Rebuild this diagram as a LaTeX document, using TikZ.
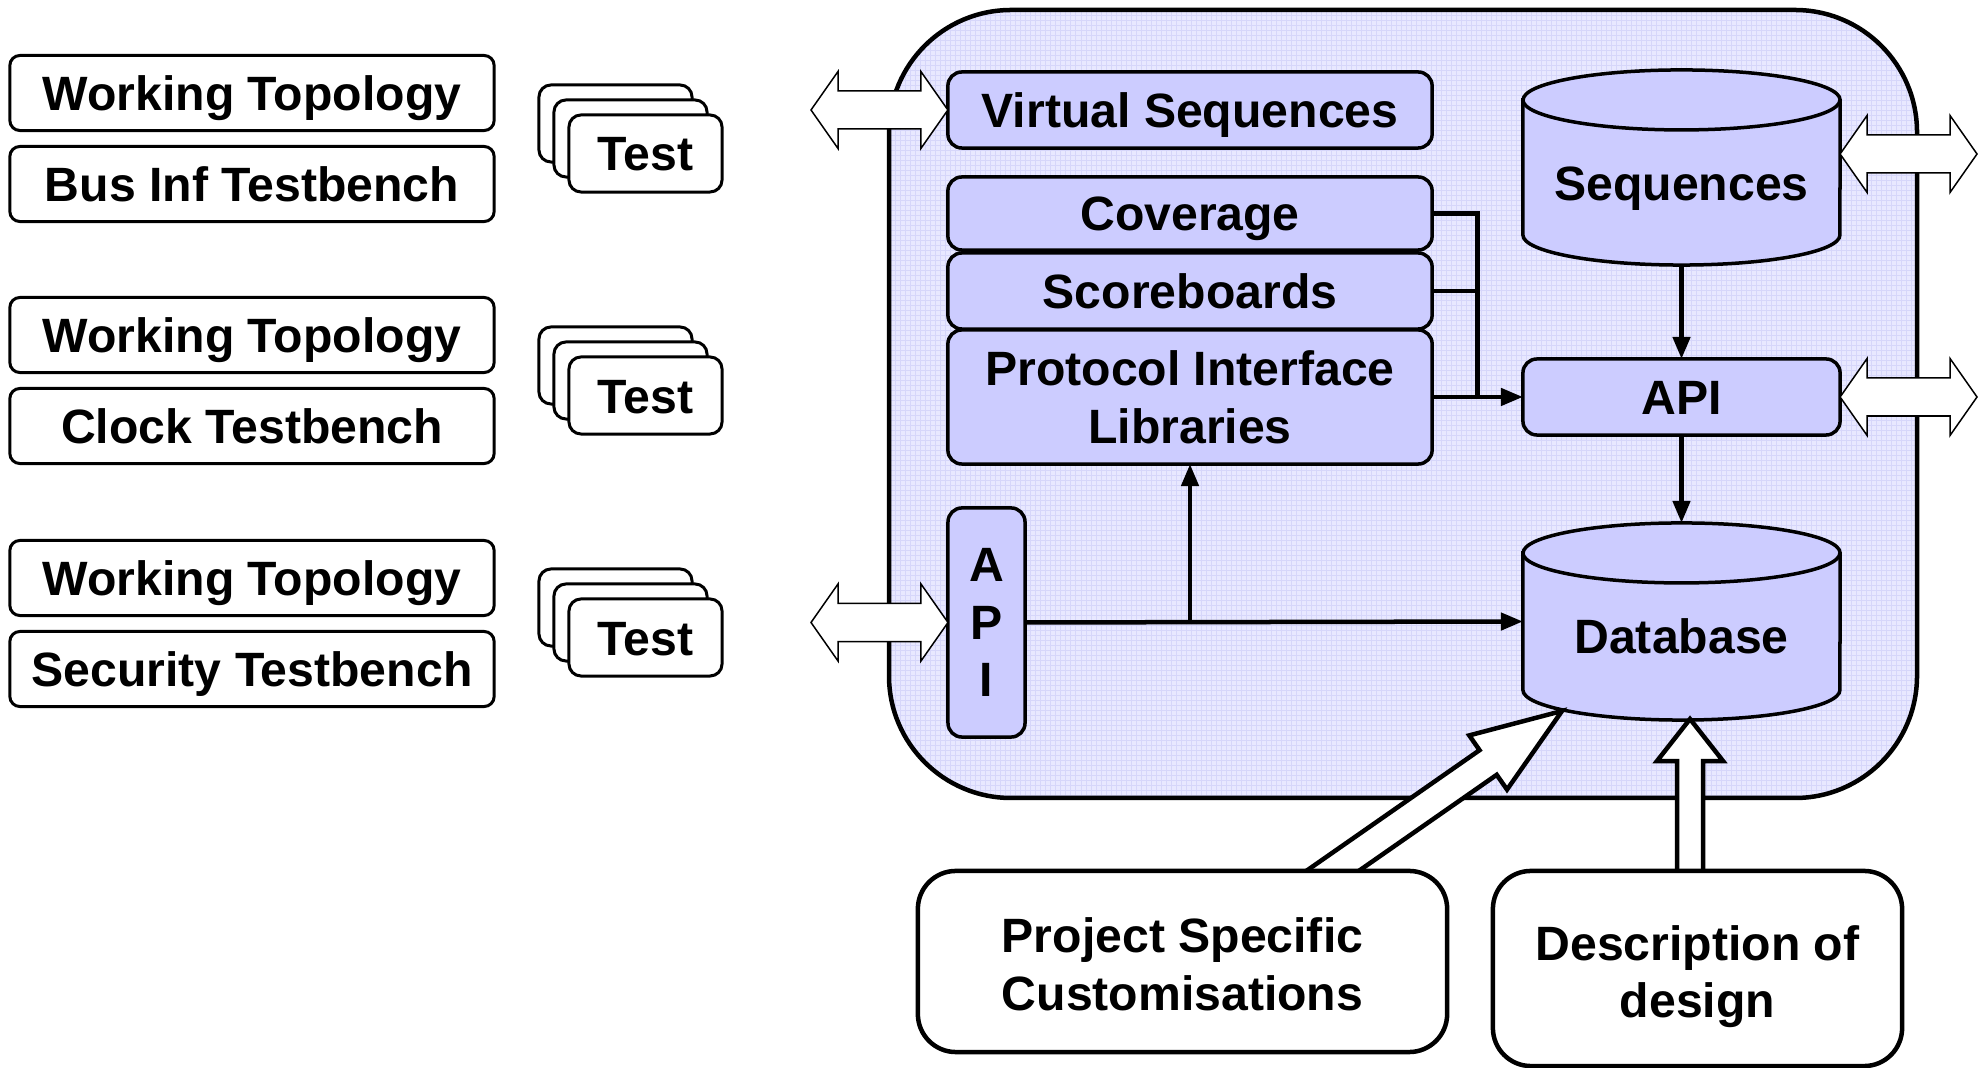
\documentclass[tikz,border=0pt]{standalone}
\usepackage{fontspec}
\setmainfont{Liberation Sans}
\usetikzlibrary{calc,arrows.meta}
\definecolor{lav}{RGB}{204,204,255}
\definecolor{bgl}{RGB}{232,232,255}
\definecolor{grl}{RGB}{214,214,250}

% block arrow: base, tip, half shaft, half head, head length
\newcommand\BlkArrow[5]{%
  \coordinate (ba-h) at ($(#2)!#5!(#1)$);
  \path[blockarrow] ($(#1)!#3!90:(#2)$) -- ($(ba-h)!#3!90:(#2)$) -- ($(ba-h)!#4!90:(#2)$)
    -- (#2) -- ($(ba-h)!#4!-90:(#2)$) -- ($(ba-h)!#3!-90:(#2)$) -- ($(#1)!#3!-90:(#2)$) -- cycle;
}
% double arrow: end A, end B, half shaft, half head, head length
\newcommand\DblArrow[5]{%
  \coordinate (da-a) at ($(#1)!#5!(#2)$);
  \coordinate (da-b) at ($(#2)!#5!(#1)$);
  \path[dblarrow] (#1) -- ($(da-a)!#4!90:(#2)$) -- ($(da-a)!#3!90:(#2)$)
    -- ($(da-b)!#3!-90:(#1)$) -- ($(da-b)!#4!-90:(#1)$) -- (#2)
    -- ($(da-b)!#4!90:(#1)$) -- ($(da-b)!#3!90:(#1)$)
    -- ($(da-a)!#3!-90:(#2)$) -- ($(da-a)!#4!-90:(#2)$) -- cycle;
}
% cylinder outline round a rectangular node: node, x radius, y radius
\newcommand\CylDraw[3]{%
  \path[cyl] ($(#1.north west)+(0,#3)$) -- ($(#1.south west)+(0,-#3)$)
    arc[start angle=180,end angle=0,x radius=#2,y radius=#3]
    -- ($(#1.north east)+(0,#3)$)
    arc[start angle=0,end angle=-180,x radius=#2,y radius=#3] -- cycle;
  \draw[line width=0.035cm] ($(#1.north west)+(0,#3)$)
    arc[start angle=180,end angle=0,x radius=#2,y radius=#3];
}

\begin{document}
\begin{tikzpicture}[x=0.01cm,y=-0.01cm,
  font=\fontsize{13.7}{16.4}\selectfont\bfseries,
  sl/.style={text height=0.35cm, text depth=0cm},
  lbox/.style={draw, fill=white, line width=0.03cm, rounded corners=0.1cm,
    minimum width=4.84cm, minimum height=0.75cm, inner sep=0pt, outer sep=0pt, sl},
  tbox/.style={draw, fill=white, line width=0.03cm, rounded corners=0.12cm,
    minimum width=1.53cm, minimum height=0.77cm, inner sep=0pt, outer sep=0pt, sl},
  ibox/.style={draw, fill=lav, line width=0.035cm, rounded corners=0.14cm,
    inner sep=0pt, outer sep=0pt, align=center},
  bbox/.style={draw, fill=white, line width=0.045cm, rounded corners=0.38cm,
    inner sep=0pt, outer sep=0pt},
  plainnode/.style={inner sep=0pt, outer sep=0pt, align=center},
  conn/.style={line width=0.045cm},
  arr/.style={-{Triangle[length=0.22cm,width=0.17cm]}},
  blockarrow/.style={draw, fill=white, line width=0.045cm},
  dblarrow/.style={draw, fill=white, line width=0.015cm},
  cyl/.style={draw, fill=lav, line width=0.035cm}
]
\useasboundingbox (0,0) rectangle (1982,1068);

% ---- big framework box ----
\begin{scope}
  \clip[rounded corners=1.22cm] (889,10) rectangle (1917,798);
  \fill[bgl] (889,10) rectangle (1917,798);
  \draw[grl, line width=0.004cm, step=0.05cm] (885,5) grid (1920,800);
\end{scope}
\draw[line width=0.045cm, rounded corners=1.22cm] (889,10) rectangle (1917,798);

% ---- inner blocks ----
\node[ibox, sl, minimum width=4.84cm, minimum height=0.76cm] (vs) at (1190,110) {Virtual Sequences};
\node[ibox, sl, minimum width=4.84cm, minimum height=0.73cm] (cov) at (1190,213.5) {Coverage};
\node[ibox, sl, minimum width=4.84cm, minimum height=0.76cm] (scb) at (1190,291) {Scoreboards};
\node[ibox, minimum width=4.84cm, minimum height=1.34cm] (prot) at (1190,397) {Protocol Interface\\Libraries};
\node[ibox, sl, minimum width=3.17cm, minimum height=0.76cm] (api) at (1681.5,397) {API};
\node[ibox, minimum width=0.77cm, minimum height=2.29cm] (apiv) at (986.5,622.5) {A\\P\\I};

% cylinders
\node[plainnode, minimum width=3.17cm, minimum height=1.95cm] (seq) at (1681.5,167.5) {};
\CylDraw{seq}{158.5}{30}
\node[plainnode, sl] (seqt) at (1681.5,183) {Sequences};
\node[plainnode, minimum width=3.17cm, minimum height=1.97cm] (db) at (1681.5,621.5) {};
\CylDraw{db}{158.5}{30}
\node[plainnode, sl] (dbt) at (1681.5,636) {Database};

% ---- connectors ----
\coordinate (jx) at ($(prot.east)!0.5!(api.west)$);
\draw[conn] (cov.east) -| (jx);
\draw[conn] (scb.east) -- (scb.east -| jx);
\draw[conn, arr] (prot.east) -- (api.west);
\draw[conn, arr] (seq.south) -- (api.north);
\draw[conn, arr] (api.south) -- (db.north);
\draw[conn, arr] (apiv.east) -- (db.west);
\coordinate (jy) at (prot.south |- apiv.east);
\draw[conn, arr] (jy) -- (prot.south);

% ---- double arrows ----
\coordinate (vsL) at (811,110);
\DblArrow{vsL}{vs.west}{0.19cm}{0.385cm}{0.27cm}
\coordinate (apL) at (811,622.5);
\DblArrow{apL}{apiv.west}{0.19cm}{0.385cm}{0.27cm}
\coordinate (sqR) at (1977,154);
\coordinate (sqE) at (seq.east |- sqR);
\DblArrow{sqE}{sqR}{0.19cm}{0.385cm}{0.27cm}
\coordinate (apR) at (1977,397);
\DblArrow{api.east}{apR}{0.19cm}{0.385cm}{0.27cm}

% ---- bottom boxes and block arrows ----
\coordinate (dgb) at (1298,895);
\coordinate (dgt) at (1562,711);
\BlkArrow{dgb}{dgt}{0.15cm}{0.33cm}{0.9cm}
\coordinate (vtb) at (1690,895);
\coordinate (vtt) at (1690,719);
\BlkArrow{vtb}{vtt}{0.13cm}{0.33cm}{0.42cm}

\node[bbox, minimum width=5.29cm, minimum height=1.81cm] (proj) at (1182.5,961.5) {};
\node[plainnode] (projt) at ($(proj.center)+(0,3)$) {Project Specific\\Customisations};
\node[bbox, minimum width=4.09cm, minimum height=1.95cm] (desc) at (1697.5,968.5) {};
\node[plainnode] (desct) at ($(desc.center)+(0,8)$) {Description of\\design};

% ---- left: testbenches ----
\node[lbox] (wt1) at (252,93) {Working Topology};
\node[lbox] (tb1) at (252,184) {Bus Inf Testbench};
\node[lbox] (wt2) at (252,335) {Working Topology};
\node[lbox] (tb2) at (252,426) {Clock Testbench};
\node[lbox] (wt3) at (252,578) {Working Topology};
\node[lbox] (tb3) at (252,669) {Security Testbench};

% ---- test stacks ----
\foreach \k/\dy in {1/0, 2/242, 3/484} {
  \node[tbox] (t\k c) at (615.5,123.5+\dy) {};
  \node[tbox] (t\k b) at (630.5,138.5+\dy) {};
  \node[tbox] (t\k a) at (645.5,153.5+\dy) {Test};
}
\end{tikzpicture}
\end{document}
